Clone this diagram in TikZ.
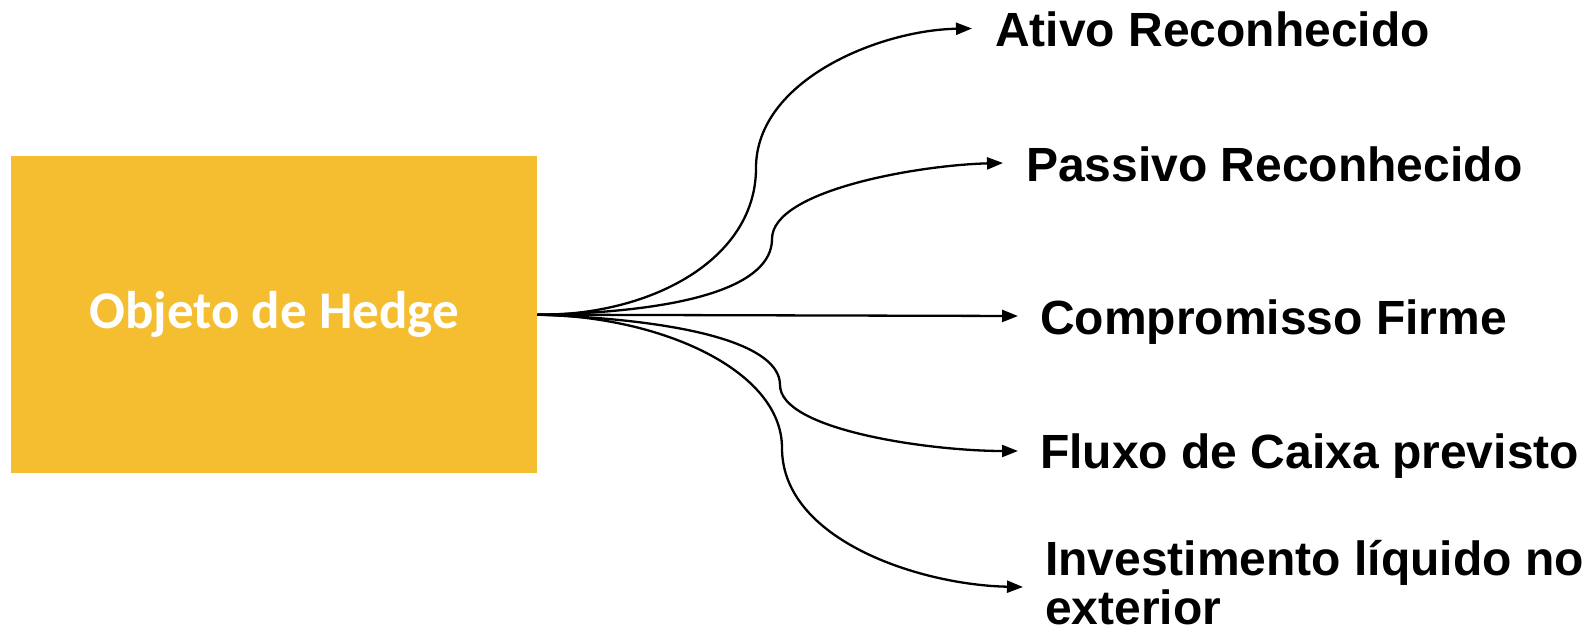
\documentclass[tikz,border=0pt]{standalone}
\usepackage{fontspec}
\setmainfont{Liberation Sans}
\newfontfamily\calibrifont{Carlito}
\usetikzlibrary{arrows.meta}
\definecolor{hedgeyellow}{HTML}{F5BD30}
\begin{document}
\begin{tikzpicture}[x=1pt,y=-1pt,
  conn/.style={line width=2.3pt,-{Triangle[length=16pt,width=12pt]}},
  lbl/.style={font=\fontsize{48}{49}\selectfont\bfseries, anchor=base west, inner sep=0pt, align=left}]
\useasboundingbox (0,0) rectangle (1596,637);
\node[fill=hedgeyellow, minimum width=526pt, minimum height=317pt, inner sep=0pt, anchor=north west,
      text=white, font=\calibrifont\fontsize{53}{56}\selectfont\bfseries] (obj) at (11,156) {Objeto de Hedge};
\coordinate (src) at (537,316);
\coordinate (e1) at (972,28.5);
\coordinate (e2) at (1003,163);
\coordinate (e3) at (1018,316);
\coordinate (e4) at (1018,451);
\coordinate (e5) at (1023,587);
\node[lbl] (t1) at (995,46) {Ativo Reconhecido};
\node[lbl] (t2) at (1026,181) {Passivo Reconhecido};
\node[lbl] (t3) at (1040,334) {Compromisso Firme};
\node[lbl] (t4) at (1040,468) {Fluxo de Caixa previsto};
\node[lbl] (t5) at (1045,624) {Investimento líquido no\\exterior};
\draw[conn] (obj.east) .. controls (650,316) and (756,260) .. (756,168) .. controls (756,80) and (880,30) .. (e1);
\draw[conn] (obj.east) .. controls (690,312) and (772,285) .. (772,239) .. controls (772,190) and (920,165) .. (e2);
\draw[conn] (obj.east) -- (e3);
\draw[conn] (obj.east) .. controls (690,320) and (780,345) .. (780,385) .. controls (780,430) and (930,451) .. (e4);
\draw[conn] (obj.east) .. controls (660,316) and (782,370) .. (782,448) .. controls (782,540) and (920,585) .. (e5);
\end{tikzpicture}
\end{document}
